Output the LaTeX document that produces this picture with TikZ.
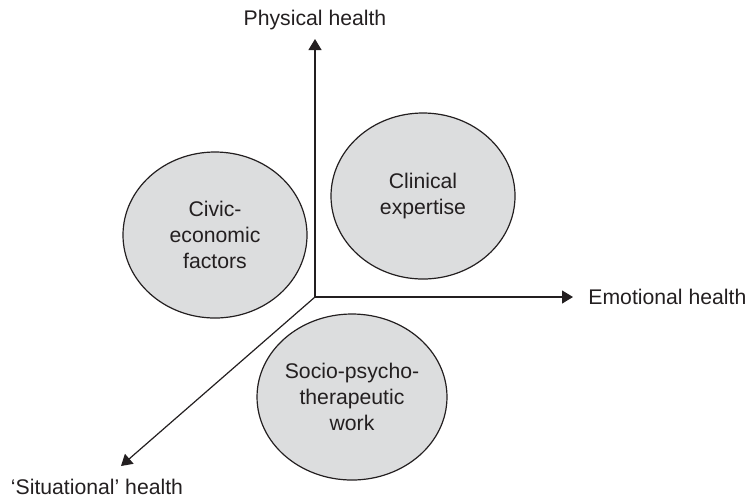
\documentclass[tikz,border=0pt]{standalone}
\usepackage{fontspec}
\setmainfont{Liberation Sans}
\usetikzlibrary{shapes.geometric,arrows.meta}
\definecolor{blobgray}{RGB}{220,221,222}
\definecolor{inkgray}{RGB}{35,31,32}
\begin{document}
\begin{tikzpicture}[x=0.5pt,y=-0.5pt,
    font=\fontsize{10.6}{13}\selectfont, text=inkgray,
    axis/.style={line width=0.6pt,draw=inkgray,-{Triangle[width=6.5pt,length=5.5pt]}},
    blob/.style={ellipse,draw=inkgray,line width=0.6pt,fill=blobgray,minimum width=92pt,minimum height=83pt,inner sep=0pt,align=center}]
    \useasboundingbox (0,0) rectangle (747,499);
    \coordinate (o) at (315,297);
    \coordinate (up) at (315,39);
    \coordinate (right) at (573,297);
    \coordinate (down) at (121,466);
    \draw[axis] (o) -- (up);
    \draw[axis] (o) -- (right);
    \draw[axis] (o) -- (down);
    \node[inner sep=0pt] (phys) at (315,20) {Physical health};
    \node[anchor=west,inner sep=0pt] (emo) at (588,297) {Emotional health};
    \node[inner sep=0pt] (sit) at (97,487) {‘Situational’ health};
    \node[blob] (civic) at (215,235) {Civic-\\economic\\factors};
    \node[blob] (clin) at (423,196) {Clinical\\expertise};
    \node[blob] (socio) at (352,397) {Socio-psycho-\\therapeutic\\work};
\end{tikzpicture}
\end{document}
